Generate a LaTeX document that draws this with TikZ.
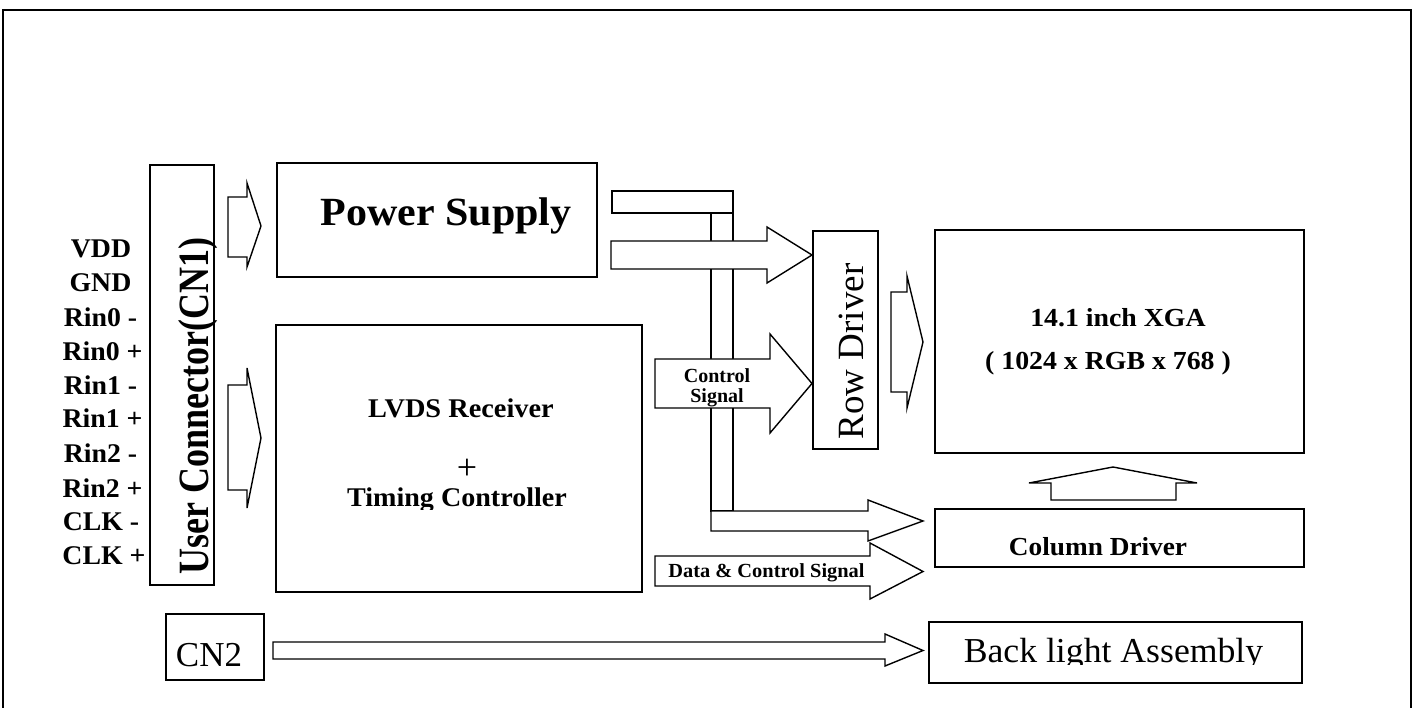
\documentclass[tikz,border=0pt]{standalone}
\usepackage{fontspec}
\usepackage{graphicx}
\setmainfont{Liberation Serif}
\newcommand\hstr[2]{\scalebox{#1}[1]{#2}}
\newcommand\vstr[2]{\scalebox{1}[#1]{#2}}
\begin{document}
\begin{tikzpicture}[x=1pt,y=-1pt,
  box/.style={draw, line width=1.4pt, inner sep=0pt, rectangle},
  blk/.style={draw, fill=white, line width=1.4pt, line join=miter},
  lbl/.style={font=\bfseries\fontsize{27}{27}\selectfont, anchor=base, inner sep=0pt},
  txt/.style={anchor=base, inner sep=0pt}]
\useasboundingbox (0,0) rectangle (1417,708);
% outer frame
\draw[line width=2.6pt] (3,720) -- (3,10) -- (1411,10) -- (1411,720);

% boxes
\node[box, minimum width=64pt, minimum height=420pt] (cn1) at (182,375) {};
\node[box, minimum width=320pt, minimum height=114pt] (ps) at (437,220) {};
\node[box, minimum width=366pt, minimum height=267pt] (lvds) at (459,458.5) {};
\node[box, minimum width=65pt, minimum height=218pt] (row) at (845.5,340) {};
\node[box, minimum width=369pt, minimum height=223pt] (panel) at (1119.5,341.5) {};
\node[box, minimum width=369pt, minimum height=58pt] (col) at (1119.5,538) {};
\node[box, minimum width=98pt, minimum height=66pt] (cn2) at (215,647) {};
\node[box, minimum width=373pt, minimum height=61pt] (bl) at (1115.5,652.5) {};

% left labels
\node[lbl] (l1) at (101,258) {\hstr{1.03}{VDD}};
\node[lbl] (l2) at (100.5,292) {\hstr{1.03}{GND}};
\node[lbl] (l3) at (100.5,327) {\hstr{1.03}{Rin0 -}};
\node[lbl] (l4) at (102.5,361) {\hstr{1.03}{Rin0 +}};
\node[lbl] (l5) at (100.5,395) {\hstr{1.03}{Rin1 -}};
\node[lbl] (l6) at (102.5,428) {\hstr{1.03}{Rin1 +}};
\node[lbl] (l7) at (100.5,463) {\hstr{1.03}{Rin2 -}};
\node[lbl] (l8) at (102.5,497) {\hstr{1.03}{Rin2 +}};
\node[lbl] (l9) at (101,530) {\hstr{1.03}{CLK -}};
\node[lbl] (l10) at (104,564) {\hstr{1.03}{CLK +}};

% block arrows CN1 -> PS, CN1 -> LVDS
\draw[blk] (228,197) -- (247,197) -- (247,183) -- (261,226) -- (247,267) -- (247,257) -- (228,257) -- cycle;
\draw[blk] (228,385) -- (247,385) -- (247,368) -- (261,438) -- (247,508) -- (247,490) -- (228,490) -- cycle;

% bus from power supply
\draw[blk] (612,191) rectangle (733,213);
\draw[blk] (711,213) rectangle (733,511);
\draw[blk] (711,511) -- (868,511) -- (868,500) -- (923,521) -- (868,541) -- (868,531) -- (711,531) -- cycle;
% power arrow to row driver
\draw[blk] (611,241) -- (767,241) -- (767,227) -- (812,255) -- (767,283) -- (767,269) -- (611,269) -- cycle;
% control signal arrow
\draw[blk] (655,359) -- (770,359) -- (770,334) -- (812,383.5) -- (770,433) -- (770,408) -- (655,408) -- cycle;
% data & control arrow
\draw[blk] (655,556) -- (870,556) -- (870,543) -- (923,571.5) -- (870,599) -- (870,586) -- (655,586) -- cycle;
% row driver -> panel
\draw[blk] (891,292) -- (907,292) -- (907,276) -- (923,342) -- (907,408) -- (907,392) -- (891,392) -- cycle;
% column driver -> panel (up)
\draw[blk] (1051,500) -- (1051,483) -- (1029,483) -- (1113,467) -- (1197,483) -- (1176,483) -- (1176,500) -- cycle;
% CN2 -> back light
\draw[blk] (273,642) -- (885,642) -- (885,634) -- (923,650.5) -- (885,666) -- (885,659) -- (273,659) -- cycle;

% texts
\node[txt, rotate=90, font=\bfseries\fontsize{36}{36}\selectfont] (t1) at (208,406) {\vstr{1.2}{User Connector(CN1)}};
\node[txt, font=\bfseries\fontsize{40}{40}\selectfont] (t2) at (446,226) {\hstr{1.05}{Power Supply}};
\node[txt, font=\bfseries\fontsize{27}{27}\selectfont] (t3) at (461,418) {\hstr{1.05}{LVDS Receiver}};
\node[txt, font=\fontsize{36}{36}\selectfont] (t4) at (467,479) {+};
\begin{scope}
\clip (276,325) rectangle (642,509);
\node[txt, font=\bfseries\fontsize{27}{27}\selectfont] (t5) at (457,507) {\hstr{1.04}{Timing Controller}};
\end{scope}
\node[txt, font=\bfseries\fontsize{20}{20}\selectfont] (t6) at (717,383) {Control};
\node[txt, font=\bfseries\fontsize{20}{20}\selectfont] (t7) at (717,403) {Signal};
\node[txt, font=\bfseries\fontsize{20}{20}\selectfont] (t8) at (766.5,577) {\hstr{1.02}{Data \& Control Signal}};
\node[txt, rotate=90, font=\fontsize{37}{37}\selectfont] (t9) at (863,351.5) {Row Driver};
\node[txt, font=\bfseries\fontsize{26}{26}\selectfont] (t10) at (1118,327) {\hstr{1.07}{14.1 inch XGA}};
\node[txt, font=\bfseries\fontsize{26}{26}\selectfont] (t11) at (1108,370) {\hstr{1.07}{( 1024 x RGB x 768 )}};
\node[txt, font=\bfseries\fontsize{26}{26}\selectfont] (t12) at (1098,555) {\hstr{1.05}{Column Driver}};
\node[txt, font=\fontsize{35}{35}\selectfont] (t13) at (209,666) {CN2};
\begin{scope}
\clip (929,622) rectangle (1302,664);
\node[txt, font=\fontsize{35}{35}\selectfont] (t14) at (1113.5,662) {\hstr{1.02}{Back light Assembly}};
\end{scope}
\end{tikzpicture}
\end{document}
